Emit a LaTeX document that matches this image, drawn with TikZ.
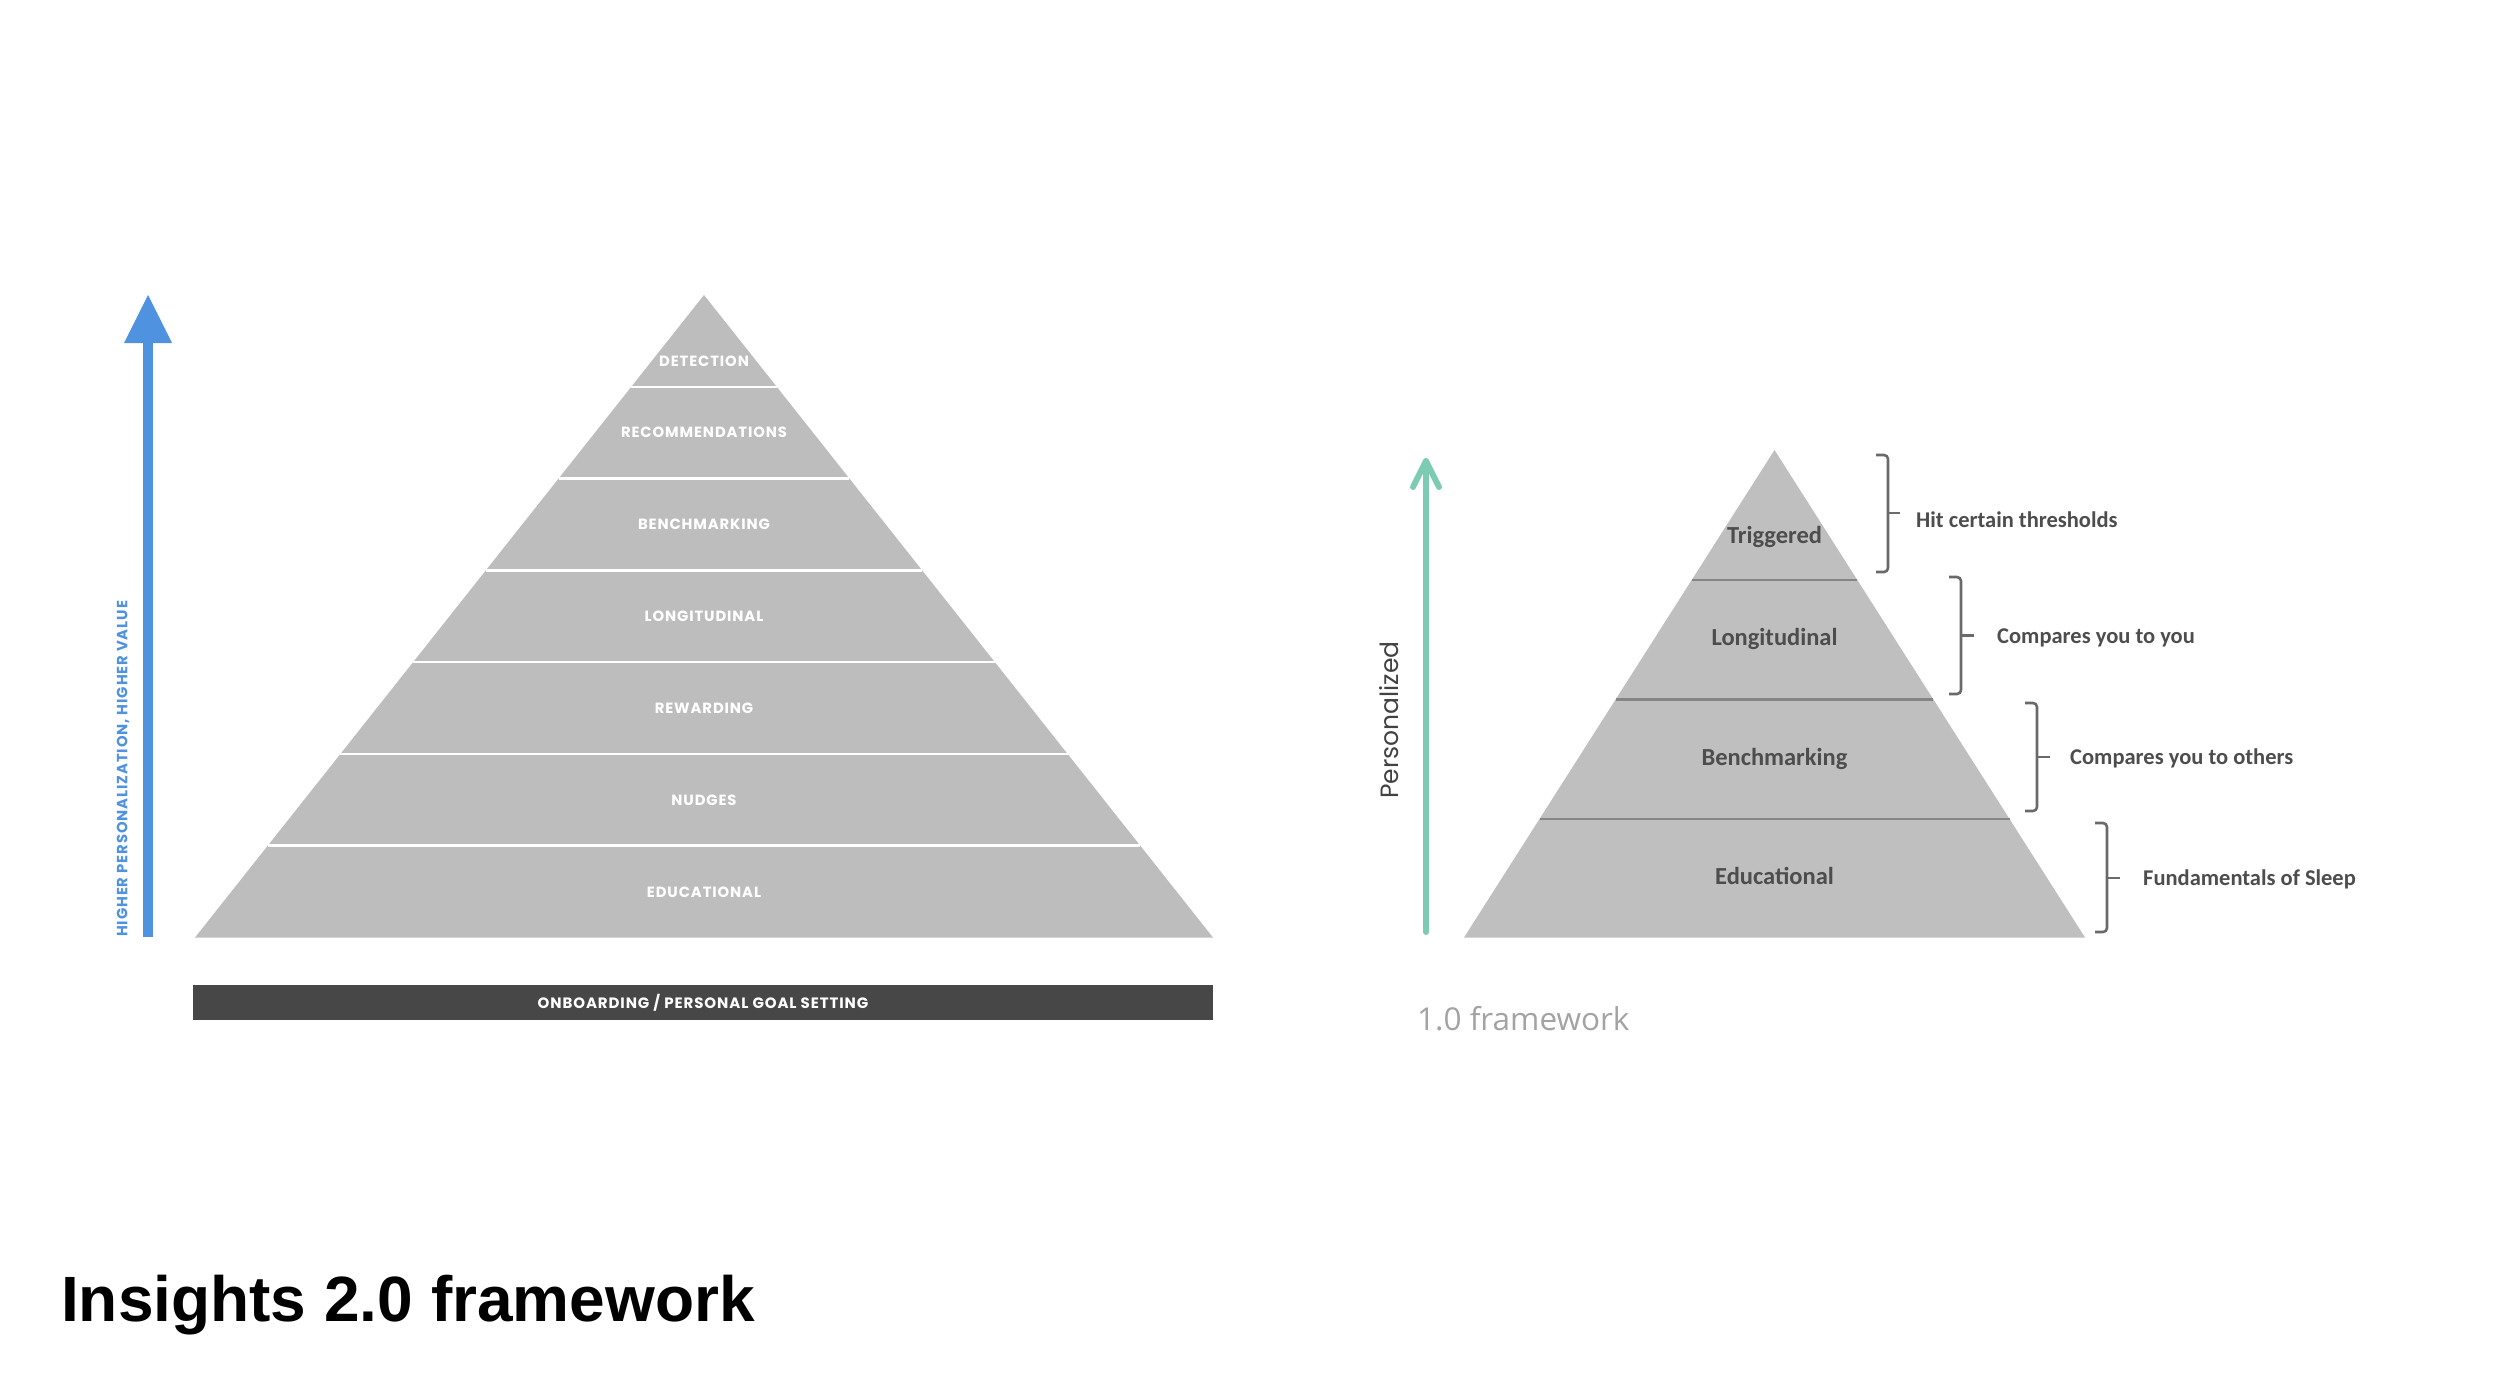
\documentclass[tikz,border=0pt]{standalone}
\usepackage{fontspec}
\setmainfont{Open Sans}
\newfontfamily\popf[LetterSpace=6]{Poppins}
\newfontfamily\popn{Poppins}
\newfontfamily\calf{Carlito}
\newfontfamily\opf{Open Sans}
\newfontfamily\titlef{Liberation Sans}
\usetikzlibrary{calc}
\definecolor{pyrL}{HTML}{BDBDBD}
\definecolor{pyrR}{HTML}{BFBFBF}
\definecolor{barc}{HTML}{474747}
\definecolor{bluec}{HTML}{4F93E0}
\definecolor{greenc}{HTML}{7CCBB2}
\definecolor{bracec}{HTML}{6A6A6A}
\definecolor{sepR}{HTML}{858585}
\definecolor{darkt}{HTML}{4D4D4D}
\definecolor{lightt}{HTML}{A3A3A3}
\tikzset{
  lab/.style={inner sep=0pt, text=white, font=\popf\bfseries\fontsize{14.8}{16}\selectfont},
  sepw/.style={draw=white, line width=2.5pt},
  sepd/.style={draw=sepR, line width=2.5pt},
  rlab/.style={inner sep=0pt, anchor=base, text=darkt, font=\calf\bfseries\fontsize{24.5}{28}\selectfont},
  slab/.style={inner sep=0pt, anchor=base west, text=darkt, font=\calf\bfseries\fontsize{22.5}{26}\selectfont},
  bracepath/.style={draw=bracec, line width=2.6pt, rounded corners=4pt},
}
\begin{document}
\begin{tikzpicture}[x=1pt,y=-1pt]
\useasboundingbox[fill=white] (0,0) rectangle (2500,1399);

% ---------- left pyramid ----------
\coordinate (A) at (704,295);
\coordinate (BL) at (195,937.5);
\coordinate (BR) at (1213,937.5);
\fill[pyrL] (A) -- (BR) -- (BL) -- cycle;
\foreach \k in {1,...,6}
  \draw[sepw] ($(A)!\k/7!(BL)$) -- ($(A)!\k/7!(BR)$);

\node[lab] (ldet) at (704,361) {DETECTION};
\node[lab] (lrec) at (704,432.5) {RECOMMENDATIONS};
\node[lab] (lben) at (704,524) {BENCHMARKING};
\node[lab] (llon) at (704,616) {LONGITUDINAL};
\node[lab] (lrew) at (704,708) {REWARDING};
\node[lab] (lnud) at (704,800) {NUDGES};
\node[lab] (ledu) at (704,892) {EDUCATIONAL};

% onboarding bar
\node[fill=barc, minimum width=1020pt, minimum height=35pt, inner sep=0pt,
      text=white, font=\popf\bfseries\fontsize{15}{16}\selectfont]
  (obar) at (703,1002.5) {ONBOARDING / PERSONAL GOAL SETTING};

% blue arrow
\coordinate (bbot) at (148,937);
\coordinate (btip) at (148,295);
\fill[bluec] ($(bbot)+(-5,0)$) rectangle ($(btip)+(5,46)$);
\fill[bluec] ($(btip)+(-24,48)$) -- (btip) -- ($(btip)+(24,48)$) -- cycle;
\node[rotate=90, anchor=west, inner sep=0pt, text=bluec,
      font=\popf\bfseries\fontsize{14.8}{16}\selectfont]
  (btext) at (123,937) {HIGHER PERSONALIZATION, HIGHER VALUE};

% ---------- right pyramid ----------
\coordinate (RA) at (1774.5,450);
\coordinate (RBL) at (1464,937.5);
\coordinate (RBR) at (2085,937.5);
\fill[pyrR] (RA) -- (RBR) -- (RBL) -- cycle;
\foreach \t in {0.2667,0.5113,0.7569}
  \draw[sepd] ($(RA)!\t!(RBL)$) -- ($(RA)!\t!(RBR)$);

\node[rlab] (rtri) at (1774.5,543) {Triggered};
\node[rlab] (rlon) at (1774.5,645) {Longitudinal};
\node[rlab] (rben) at (1774.5,765) {Benchmarking};
\node[rlab] (redu) at (1774.5,884) {Educational};

% braces
\draw[bracepath] (1876,455) -- (1888,455) -- (1888,572) -- (1876,572);
\draw[bracepath, rounded corners=0pt] (1888,513) -- (1900,513);
\draw[bracepath] (1949,577) -- (1961,577) -- (1961,694) -- (1949,694);
\draw[bracepath, rounded corners=0pt] (1961,635.5) -- (1974,635.5);
\draw[bracepath] (2025,703) -- (2037,703) -- (2037,811) -- (2025,811);
\draw[bracepath, rounded corners=0pt] (2037,757) -- (2050,757);
\draw[bracepath] (2095,823) -- (2107,823) -- (2107,932) -- (2095,932);
\draw[bracepath, rounded corners=0pt] (2107,878) -- (2120,878);

\node[slab] (s1) at (1916,527) {Hit certain thresholds};
\node[slab] (s2) at (1997,643) {Compares you to you};
\node[slab] (s3) at (2070,764) {Compares you to others};
\node[slab] (s4) at (2143,885) {Fundamentals of Sleep};

% green arrow
\coordinate (gbot) at (1426,932);
\coordinate (gtip) at (1426,461);
\draw[greenc, line width=6pt, line cap=round] (gbot) -- (gtip);
\draw[greenc, line width=6pt, line cap=round, line join=round]
  ($(gtip)+(-13,26)$) -- (gtip) -- ($(gtip)+(13,26)$);

\node[rotate=90, inner sep=0pt, text=darkt!85!black,
      font=\popn\fontsize{25}{28}\selectfont] (pers) at (1389,720) {Personalized};

\node[anchor=west, inner sep=0pt, text=lightt,
      font=\opf\fontsize{31.5}{36}\selectfont] (fw1) at (1417,1019) {1.0 framework};

% title
\node[anchor=base west, inner sep=0pt, text=black,
      font=\titlef\bfseries\fontsize{64}{72}\selectfont] (title) at (61,1321) {Insights 2.0 framework};
\end{tikzpicture}
\end{document}
